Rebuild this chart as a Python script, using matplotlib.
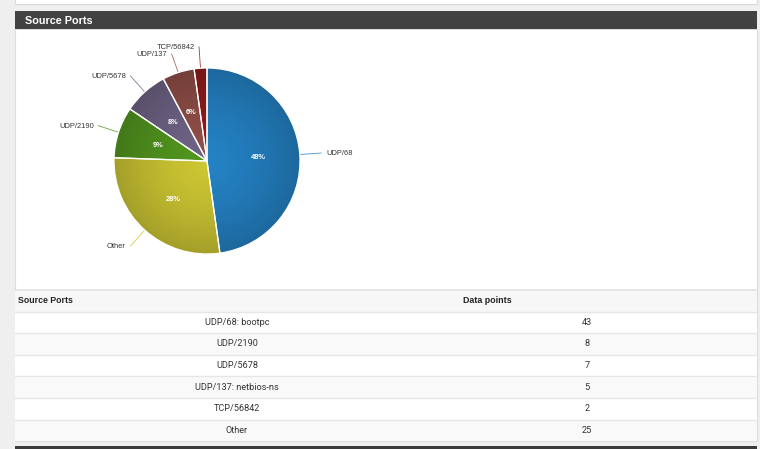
import numpy as np
import matplotlib.pyplot as plt
from matplotlib.patches import Rectangle, Circle

# Data
pie_labels = ['UDP/68', 'Other', 'UDP/2190', 'UDP/5678', 'UDP/137', 'TCP/56842']
pie_values = [43, 25, 8, 7, 5, 2]
pie_colors = ['#2482c4', '#ccc633', '#52961f', '#706486', '#914f48', '#921c1c']

table_ports = ['UDP/68: bootpc', 'UDP/2190', 'UDP/5678', 'UDP/137: netbios-ns', 'TCP/56842', 'Other']
table_values = [43, 8, 7, 5, 2, 25]

W, H = 760, 449
fig = plt.figure(figsize=(W / 100, H / 100), dpi=100)
fig.patch.set_facecolor('#efefef')

# pixel-space background axes
bg = fig.add_axes([0, 0, 1, 1])
bg.set_xlim(0, W)
bg.set_ylim(H, 0)
bg.axis('off')

# remains of the panel above
bg.add_patch(Rectangle((15, -2), 742, 5.5, facecolor='white', edgecolor='#dcdcdc', lw=0.8))
# panel body and header
bg.add_patch(Rectangle((15, 29), 742, 412, facecolor='white', edgecolor='#dddddd', lw=0.8))
bg.add_patch(Rectangle((15, 11), 742, 18, facecolor='#424242', edgecolor='none'))
bg.text(25, 20.5, 'Source Ports', color='white', fontsize=7.8, fontweight='bold',
        family='Liberation Sans', va='center', ha='left')
# bottom bar of next panel
bg.add_patch(Rectangle((15, 446), 742, 5, facecolor='#3a3a3a', edgecolor='none'))

# table
top, row_h = 290, 21.6
bg.add_patch(Rectangle((15, top), 742, row_h, facecolor='#f7f7f7', edgecolor='none'))
bg.plot([15, 757], [top, top], color='#e2e2e2', lw=1.2)
bg.text(18, top + row_h / 2, 'Source Ports', fontsize=6.3, fontweight='bold',
        family='Liberation Sans', va='center', ha='left', color='#222222')
bg.text(487, top + row_h / 2, 'Data points', fontsize=6.4, fontweight='bold',
        family='Liberation Sans', va='center', ha='center', color='#222222')
for i, (port, val) in enumerate(zip(table_ports, table_values)):
    y0 = top + row_h * (i + 1)
    fc = '#f9f9f9' if i % 2 == 1 else 'white'
    bg.add_patch(Rectangle((15, y0), 742, row_h, facecolor=fc, edgecolor='none'))
    bg.plot([15, 757], [y0, y0], color='#e6e6e6', lw=1)
    bg.text(237, y0 + row_h / 2, port, fontsize=6.6, family='Roboto',
            va='center', ha='center', color='#333333')
    bg.text(587, y0 + row_h / 2, str(val), fontsize=6.6, family='Roboto',
            va='center', ha='center', color='#333333')

# pie
cx, cy, r = 207, 161, 93
ax = fig.add_axes([(cx - r) / W, 1 - (cy + r) / H, 2 * r / W, 2 * r / H])
wedges, _ = ax.pie(pie_values, colors=pie_colors, startangle=90, counterclock=False,
                   wedgeprops=dict(edgecolor='none'))

# radial shading: lighter centre, darker rim
g = np.linspace(-1, 1, 300)
gx, gy = np.meshgrid(g, g)
rr = np.clip(np.hypot(gx, gy), 0, 1)
shade = np.zeros((300, 300, 4))
shade[..., 3] = 0.2 * rr ** 1.5
im = ax.imshow(shade, extent=(-1, 1, -1, 1), zorder=2)
im.set_clip_path(Circle((0, 0), 1, transform=ax.transData))

# white separators and percentages on top
ax.pie(pie_values, colors=['none'] * len(pie_values), startangle=90, counterclock=False,
       autopct=lambda p: f'{p:.0f}%' if p >= 3 else '', pctdistance=0.55,
       wedgeprops=dict(edgecolor='white', linewidth=0.9, zorder=3),
       textprops=dict(color='white', fontsize=5.4, fontweight='bold',
                      family='Liberation Sans', zorder=4))
ax.set_xlim(-1, 1)
ax.set_ylim(-1, 1)
ax.set_aspect('equal')

# outside labels with leader lines
px = 1 / r  # one pixel in pie units
ends = []
for w in wedges:
    ang = np.deg2rad((w.theta1 + w.theta2) / 2)
    ends.append((np.cos(ang), np.sin(ang)))

# keep neighbouring labels on the left side at least 7px apart vertically
left = sorted([i for i, (x, y) in enumerate(ends) if x <= 0], key=lambda i: -ends[i][1])
label_y = {i: ends[i][1] * 1.23 for i in range(len(ends))}
for a, b in zip(left, left[1:]):
    if label_y[a] - label_y[b] < 7 * px:
        label_y[b] = label_y[a] - 7 * px

for i, (lab, col) in enumerate(zip(pie_labels, pie_colors)):
    x, y = ends[i]
    ex, ey = x * 1.23, label_y[i]
    ax.plot([x, ex], [y, ey], color=col, lw=0.6, alpha=0.85, clip_on=False)
    if x > 0:
        ax.text(ex + 5 * px, ey - 0.5 * px, lab, ha='left', va='center', fontsize=5.4,
                family='Liberation Sans', color='#333333')
    else:
        ax.text(ex - 4.5 * px, ey - 0.5 * px, lab, ha='right', va='center', fontsize=5.4,
                family='Liberation Sans', color='#333333')

plt.savefig('out.png', dpi=100, facecolor=fig.get_facecolor())
